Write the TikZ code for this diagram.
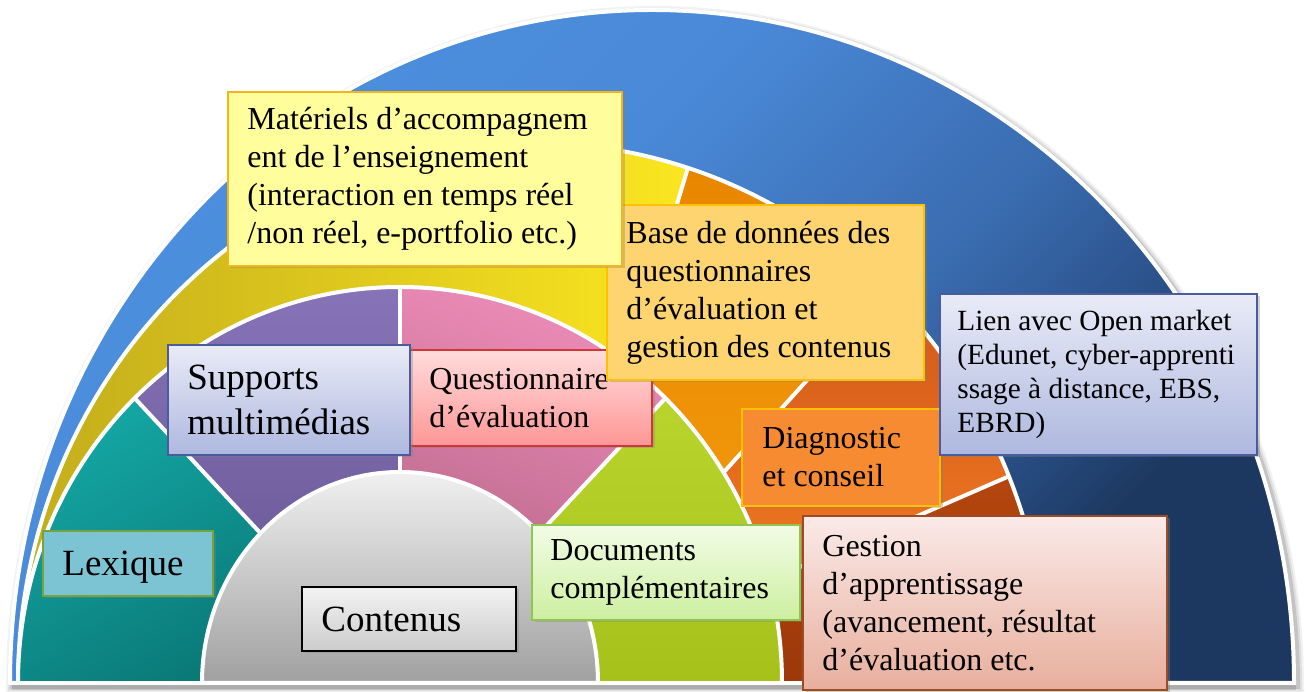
\documentclass[tikz,border=0pt]{standalone}
\usepackage{fontspec}
\setmainfont{Liberation Serif}
\usetikzlibrary{shadows}
\definecolor{blueL}{HTML}{4C90DE}
\definecolor{blueB}{HTML}{4A89D8}
\definecolor{blueC}{HTML}{3A6CB0}
\definecolor{blueE}{HTML}{2A5088}
\definecolor{blueD}{HTML}{1C3860}
\pgfdeclareverticalshading{bluering}{100bp}{color(0bp)=(blueD); color(27bp)=(blueD); color(33.5bp)=(blueE); color(42.5bp)=(blueC); color(58bp)=(blueB); color(75bp)=(blueL); color(100bp)=(blueL)}
\definecolor{yelD}{HTML}{C2AC1C}
\definecolor{yelL}{HTML}{FBE620}
\definecolor{orA}{HTML}{E98600}
\definecolor{orB}{HTML}{F5A010}
\definecolor{dorA}{HTML}{D2581A}
\definecolor{dorB}{HTML}{F88424}
\definecolor{brA}{HTML}{B4460E}
\definecolor{brB}{HTML}{9C380A}
\definecolor{tealA}{HTML}{14A6A3}
\definecolor{tealB}{HTML}{087170}
\definecolor{purA}{HTML}{8774B8}
\definecolor{purB}{HTML}{62508E}
\definecolor{pinkA}{HTML}{EC8CB8}
\definecolor{pinkB}{HTML}{B06082}
\definecolor{grnA}{HTML}{BAD42E}
\definecolor{grnB}{HTML}{A6C21A}
\definecolor{grayA}{HTML}{F0F0F0}
\definecolor{grayB}{HTML}{A0A0A0}
\definecolor{matF}{HTML}{FFFD9C}
\definecolor{matD}{HTML}{F4B41E}
\definecolor{baseF}{HTML}{FDD46F}
\definecolor{baseD}{HTML}{FFC000}
\definecolor{lavA}{HTML}{E9EBF7}
\definecolor{lavB}{HTML}{AEB8DF}
\definecolor{lavD}{HTML}{4A5C9C}
\definecolor{qA}{HTML}{FFDCDC}
\definecolor{qB}{HTML}{FF9696}
\definecolor{qD}{HTML}{D03636}
\definecolor{lexF}{HTML}{7CC4D4}
\definecolor{lexD}{HTML}{76A33A}
\definecolor{cA}{HTML}{F3F3F3}
\definecolor{cB}{HTML}{CCCCCC}
\definecolor{dA}{HTML}{F2FCE6}
\definecolor{dB}{HTML}{CDEFA0}
\definecolor{dD}{HTML}{8EC650}
\definecolor{diagF}{HTML}{F68B32}
\definecolor{gA}{HTML}{FAEAE8}
\definecolor{gB}{HTML}{E8AE9C}
\definecolor{gD}{HTML}{9E4A22}
\begin{document}
\begin{tikzpicture}[x=1pt,y=1pt,
  boxsty/.style={draw, line width=1.6pt, inner sep=0pt,
    drop shadow={opacity=0.35, shadow xshift=2.5pt, shadow yshift=-2.5pt}},
  sep/.style={white, line width=4pt},
  txt/.style={anchor=west, align=left, inner sep=0pt, font=\fontsize{32}{38}\selectfont},
  txtbig/.style={anchor=west, align=left, inner sep=0pt, font=\fontsize{37}{45}\selectfont},
  txtsmall/.style={anchor=west, align=left, inner sep=0pt, font=\fontsize{29.3}{34}\selectfont}]
\useasboundingbox (0,0) rectangle (1307,692);
% ---- outer shadow halo
\foreach \w/\o in {14/0.05,10/0.08,6/0.12}{
  \draw[black, opacity=\o, line width=\w] (13,6) arc[start angle=180, end angle=0, x radius=642, y radius=673] -- cycle;
}
% ---- outer blue ring
\path[shading=bluering, shading angle=45, draw=white, line width=4pt]
  (10,9) arc[start angle=180, end angle=0, x radius=642, y radius=673] -- cycle;
% ---- middle ring (yellow / orange)
\shade[left color=yelD, right color=yelL] (533,9) -- ++(180:515 and 540)
  arc[start angle=180, end angle=72.5, x radius=515, y radius=540] -- cycle;
\shade[top color=orA, bottom color=orB] (533,9) -- ++(72.5:515 and 540)
  arc[start angle=72.5, end angle=46.5, x radius=515, y radius=540] -- cycle;
\shade[top color=dorA, bottom color=dorB] (533,9) -- ++(46.5:515 and 540)
  arc[start angle=46.5, end angle=22.5, x radius=515, y radius=540] -- cycle;
\shade[top color=brA, bottom color=brB] (533,9) -- ++(22.5:515 and 540)
  arc[start angle=22.5, end angle=0, x radius=515, y radius=540] -- cycle;
\draw[sep] (533,9) -- ++(72.5:515 and 540);
\draw[sep] (533,9) -- ++(46.5:515 and 540);
\draw[sep] (533,9) -- ++(22.5:515 and 540);
\draw[sep] (18,9) arc[start angle=180, end angle=0, x radius=515, y radius=540];
% ---- inner ring (teal / purple / pink / green)
\shade[top color=tealA, bottom color=tealB, shading angle=30] (400,9) -- ++(180:382 and 396)
  arc[start angle=180, end angle=134, x radius=382, y radius=396] -- cycle;
\shade[top color=purA, bottom color=purB] (400,9) -- ++(134:382 and 396)
  arc[start angle=134, end angle=90, x radius=382, y radius=396] -- cycle;
\shade[top color=pinkA, bottom color=pinkB, shading angle=-20] (400,9) -- ++(90:382 and 396)
  arc[start angle=90, end angle=46, x radius=382, y radius=396] -- cycle;
\shade[top color=grnA, bottom color=grnB] (400,9) -- ++(46:382 and 396)
  arc[start angle=46, end angle=0, x radius=382, y radius=396] -- cycle;
\draw[sep] (400,9) -- ++(134:382 and 396);
\draw[sep] (400,9) -- ++(90:382 and 396);
\draw[sep] (400,9) -- ++(46:382 and 396);
\draw[sep] (18,9) arc[start angle=180, end angle=0, x radius=382, y radius=396];
% ---- gray core
\shadedraw[top color=grayA, bottom color=grayB, draw=white, line width=4pt]
  (202,9) arc[start angle=180, end angle=0, x radius=198, y radius=211] -- cycle;
% ---- base line
\draw[black, opacity=0.12, line width=5pt] (12,4) -- (1296,4);
\draw[sep] (10,9) -- (1294,9);
% ---- boxes
\node[boxsty, fill=lexF, draw=lexD, minimum width=170, minimum height=65] (lexbox) at (128,128.5) {};
\node[txtbig, text depth=0pt] (lextxt) at ([xshift=20]lexbox.west) {Lexique};
\node[boxsty, top color=cA, bottom color=cB, draw=black, minimum width=214, minimum height=64] (contbox) at (409,73) {};
\node[txtbig] (conttxt) at ([xshift=20]contbox.west) {Contenus};
\node[boxsty, top color=dA, bottom color=dB, draw=dD, minimum width=268, minimum height=95] (docbox) at (666,119.5) {};
\node[txt] (doctxt) at ([xshift=19]docbox.west) {Documents\\compl\'ementaires};
\node[boxsty, top color=gA, bottom color=gB, draw=gD, minimum width=364, minimum height=174] (gestbox) at (985,89) {};
\node[txt] (gesttxt) at ([xshift=20]gestbox.west) {Gestion\\d’apprentissage\\(avancement, résultat\\d’évaluation etc.};
\node[boxsty, top color=qA, bottom color=qB, draw=qD, minimum width=242, minimum height=96] (qbox) at (531,294) {};
\node[txt] (qtxt) at ([xshift=20]qbox.west) {Questionnaire\\d’évaluation};
\node[boxsty, top color=lavA, bottom color=lavB, draw=lavD, minimum width=242, minimum height=110] (supbox) at (289,292) {};
\node[txtbig] (suptxt) at ([xshift=20]supbox.west) {Supports\\multimédias};
\node[boxsty, fill=baseF, draw=baseD, minimum width=317, minimum height=175] (basebox) at (765.5,399.5) {};
\node[txt] (basetxt) at ([xshift=20]basebox.west) {Base de données des\\questionnaires\\d’évaluation et\\gestion des contenus};
\node[boxsty, fill=matF, draw=matD, minimum width=394, minimum height=174] (matbox) at (425,513) {};
\node[txt] (mattxt) at ([xshift=20]matbox.west) {Matériels d’accompagnem\\ent de l’enseignement\\(interaction en temps réel\\/non réel, e-portfolio etc.)};
\node[boxsty, fill=diagF, draw=baseD, minimum width=198, minimum height=97] (diagbox) at (841,234.5) {};
\node[txt] (diagtxt) at ([xshift=21]diagbox.west) {Diagnostic\\et conseil};
\node[boxsty, top color=lavA, bottom color=lavB, draw=lavD, minimum width=317, minimum height=161] (lienbox) at (1098.5,317.5) {};
\node[txtsmall] (lientxt) at ([xshift=18]lienbox.west) {Lien avec Open market\\(Edunet, cyber-apprenti\\ssage à distance, EBS,\\EBRD)};
\end{tikzpicture}
\end{document}
